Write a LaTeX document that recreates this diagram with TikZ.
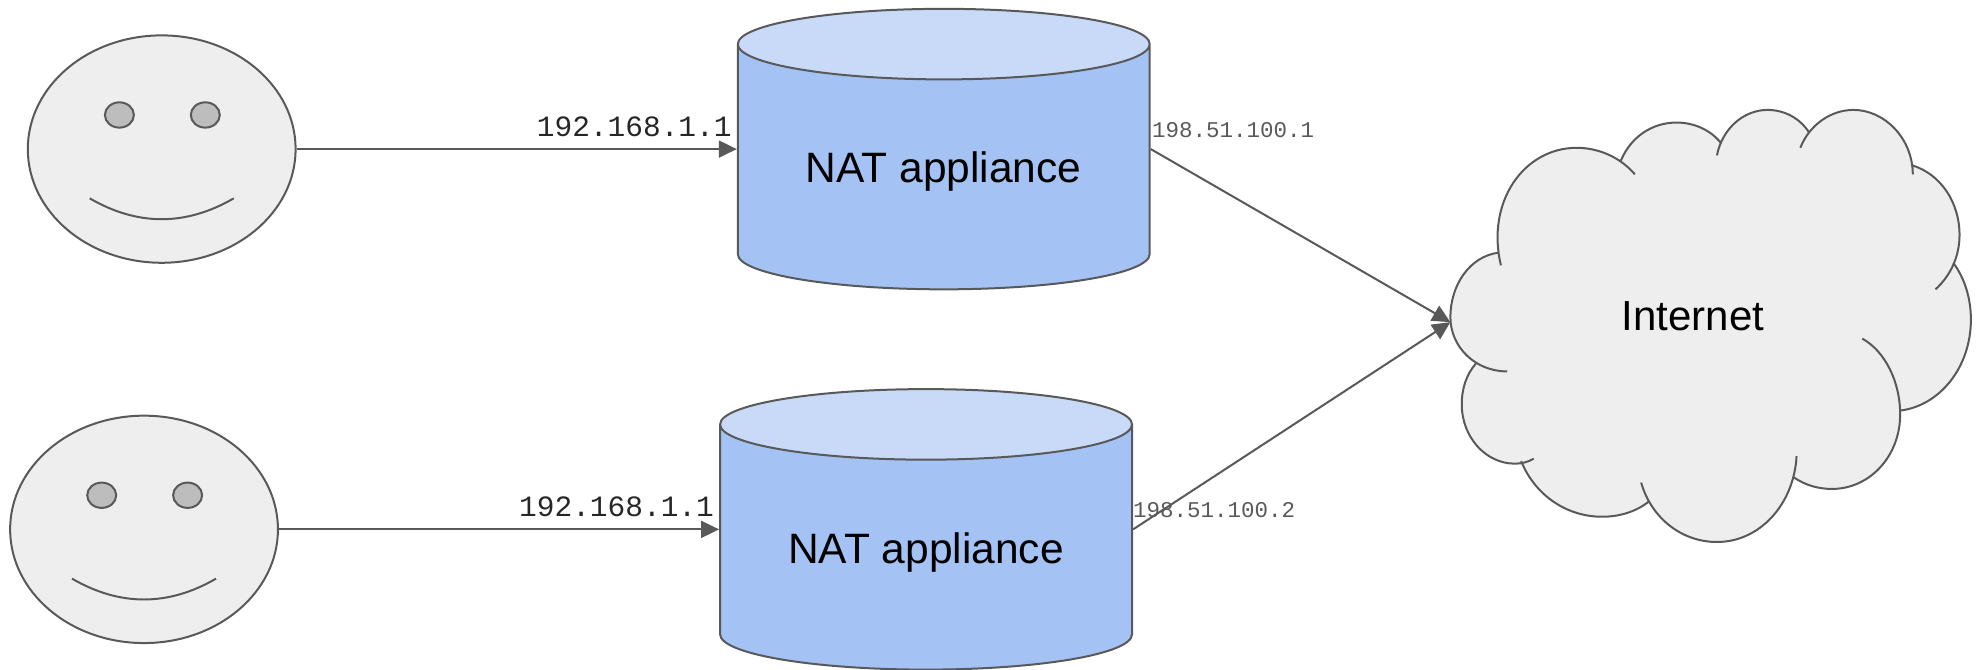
\documentclass[tikz,border=0pt]{standalone}
\usepackage{fontspec}
\setmainfont{Liberation Sans}
\newfontfamily\labelmono{Liberation Mono}
\usetikzlibrary{shapes.geometric,arrows.meta}
\definecolor{linegray}{HTML}{595959}
\definecolor{facegray}{HTML}{EEEEEE}
\definecolor{eyegray}{HTML}{BDBDBD}
\definecolor{natbody}{HTML}{A4C2F4}
\definecolor{nattop}{HTML}{C9DAF8}
\tikzset{
    outline/.style={draw=linegray, line width=2pt},
    facebox/.style={outline, ellipse, fill=facegray, inner sep=0pt, minimum width=267.8pt, minimum height=227.4pt},
    eyebox/.style={outline, ellipse, fill=eyegray, inner sep=0pt, minimum width=29pt, minimum height=25.3pt},
    natbox/.style={outline, cylinder, shape border rotate=90, aspect=0.256, inner sep=0pt,
        minimum width=411.9pt, minimum height=280.5pt, cylinder uses custom fill,
        cylinder body fill=natbody, cylinder end fill=nattop, anchor=shape center,
        text height=40pt, text depth=9pt, font=\fontsize{42.5}{50}\selectfont},
    link/.style={outline, -{Triangle[length=18pt,width=17pt]}},
    bigaddr/.style={inner sep=0pt, text=black!85, font=\labelmono\fontsize{29.5}{34}\selectfont},
    smalladdr/.style={inner sep=0pt, text=linegray, font=\labelmono\fontsize{22.5}{26}\selectfont}
}
\newcommand{\cloudlobes}{
    (1186,200) .. controls (1163,203) and (1148,226) .. (1148,251) .. controls (1148,275) and (1168,294) .. (1193,294)
    (1188,210) .. controls (1176,160) and (1206,117) .. (1248,117) .. controls (1266,117) and (1283,125) .. (1294,138)
    (1283,127) .. controls (1291,108) and (1308,97) .. (1327,97) .. controls (1341,97) and (1354,103) .. (1362,113)
    (1359,123) .. controls (1363,102) and (1380,87) .. (1399,87) .. controls (1413,87) and (1425,94) .. (1432,105)
    (1425,117) .. controls (1432,99) and (1449,87) .. (1467,87) .. controls (1492,87) and (1514,110) .. (1514,138)
    (1514,131) .. controls (1536,138) and (1551,160) .. (1551,186) .. controls (1551,203) and (1544,218) .. (1532,229)
    (1546,208) .. controls (1555,220) and (1560,236) .. (1560,253) .. controls (1560,290) and (1536,321) .. (1504,325)
    (1474,268) .. controls (1492,278) and (1504,302) .. (1504,328) .. controls (1504,361) and (1480,387) .. (1450,387) .. controls (1439,387) and (1429,384) .. (1420,378)
    (1422,361) .. controls (1420,399) and (1393,429) .. (1359,429) .. controls (1331,429) and (1307,410) .. (1299,382)
    (1305,397) .. controls (1295,405) and (1282,409) .. (1268,409) .. controls (1240,409) and (1215,392) .. (1204,365)
    (1214,363) .. controls (1209,366) and (1204,367) .. (1199,367) .. controls (1176,367) and (1157,346) .. (1157,320) .. controls (1157,307) and (1161,296) .. (1168,288)
}
\begin{document}
\begin{tikzpicture}[x=1.26339pt, y=-1.26339pt]
            \useasboundingbox (0,0) rectangle (1568,529.54);

            % upper user
            \node [facebox] (face1) at (128,118) {};
            \node [eyebox] (eye1a) at (94.5,91) {};
            \node [eyebox] (eye1b) at (162.5,91) {};
            \draw [outline] (71,157) .. controls (109,179) and (147,179) .. (185,157);

            % lower user
            \node [facebox] (face2) at (114,419) {};
            \node [eyebox] (eye2a) at (80.5,392) {};
            \node [eyebox] (eye2b) at (148.5,392) {};
            \draw [outline] (57,458) .. controls (95,480) and (133,480) .. (171,458);

            \node [natbox] (nat1) at (747,118) {NAT appliance};
            \node [natbox] (nat2) at (733,419) {NAT appliance};

            % cloud
            \fill [facegray] (1186,200) -- (1283,127) -- (1362,113) -- (1432,105) -- (1514,131) -- (1546,208)
                -- (1504,325) -- (1420,378) -- (1305,397) -- (1204,365) -- (1168,288) -- cycle;
            \fill [facegray] \cloudlobes;
            \draw [outline] \cloudlobes;
            \node [font=\fontsize{42}{50}\selectfont, inner sep=0pt] (inet) at (1340,250) {Internet};
            \coordinate (inetin) at (1148,255);

            \draw [link] (face1) -- (nat1.shape center -| nat1.west);
            \draw [link] (face2) -- (nat2.shape center -| nat2.west);
            \draw [link] (nat1.shape center -| nat1.east) -- (inetin);
            \draw [link] (nat2.shape center -| nat2.east) -- (inetin);

            \node [bigaddr] (addr1) at (502,100) {192.168.1.1};
            \node [bigaddr] (addr2) at (488,401) {192.168.1.1};
            \node [smalladdr] (wan1) at (976,103) {198.51.100.1};
            \node [smalladdr] (wan2) at (961,404) {198.51.100.2};
        \end{tikzpicture}
\end{document}
